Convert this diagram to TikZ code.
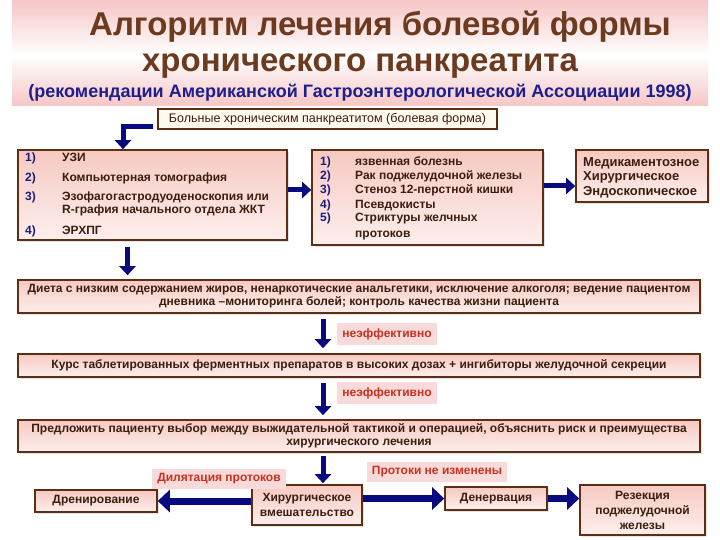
\documentclass[tikz,border=0pt]{standalone}
\usepackage{fontspec}
\setmainfont{Liberation Sans}
\usetikzlibrary{arrows.meta,shadows,calc}
\definecolor{titlebrown}{HTML}{6B3A1F}
\definecolor{subnavy}{HTML}{1E1E8C}
\definecolor{pinkbg}{HTML}{F6C6C6}
\definecolor{boxpink}{HTML}{F7C9C2}
\definecolor{boxborder}{HTML}{5C2E14}
\definecolor{boxtext}{HTML}{3C1E0F}
\definecolor{numnavy}{HTML}{1C1C7A}
\definecolor{arrowblue}{HTML}{0A0A80}
\definecolor{labelred}{HTML}{C8321E}
\definecolor{labelpink}{HTML}{F9DADA}
\definecolor{cream}{HTML}{FFF9EE}
\begin{document}
\begin{tikzpicture}[x=1pt,y=-1pt,
  box/.style={draw=boxborder, line width=1.6pt, top color=boxpink, bottom color=boxpink!30!white,
    drop shadow={shadow xshift=2pt, shadow yshift=-2pt, fill=gray!35, opacity=0.6},
    inner sep=0pt, text=boxtext, font=\bfseries\fontsize{12}{13}\selectfont, align=center},
  tall/.style={font=\bfseries\fontsize{12}{15}\selectfont},
  txt/.style={anchor=base west, inner sep=0pt, text=boxtext, font=\bfseries\fontsize{12}{13}\selectfont},
  num/.style={anchor=base west, inner sep=0pt, text=numnavy, font=\bfseries\fontsize{12}{13}\selectfont},
  lab/.style={fill=labelpink, text=labelred, inner xsep=5pt, inner ysep=5pt, font=\bfseries\fontsize{12}{13}\selectfont},
  arr/.style={draw=arrowblue, line width=5pt, -{Triangle[length=9pt,width=16pt]}},
  barr/.style={draw=arrowblue, line width=7pt, -{Triangle[length=12pt,width=22pt]}}
]
\useasboundingbox (0,0) rectangle (720,540);
\fill[white] (0,0) rectangle (720,540);
% title background
\shade[top color=pinkbg, bottom color=white] (12,0) rectangle (708,55);
\shade[top color=white, bottom color=pinkbg] (12,55) rectangle (708,106);
\node[text=titlebrown, font=\bfseries\fontsize{33}{36}\selectfont] (t1) at (380,27) {Алгоритм лечения болевой формы};
\node[text=titlebrown, font=\bfseries\fontsize{33}{36}\selectfont] (t2) at (360,66) {хронического панкреатита};
\node[text=subnavy, font=\bfseries\fontsize{18}{20}\selectfont] (t3) at (360,93) {(рекомендации Американской Гастроэнтерологической Ассоциации 1998)};

% patients box
\node[draw=boxborder, line width=1.4pt, fill=cream, minimum width=339pt, minimum height=20pt, inner sep=0pt,
  text=boxtext, font=\fontsize{12.5}{14}\selectfont] (b0) at (327.5,119) {Больные хроническим панкреатитом (болевая форма)};

% box 1
\node[box, minimum width=269pt, minimum height=90pt] (b1) at (152.5,195) {};
\node[num] (n11) at (25,162) {1)};  \node[txt] (x11) at (62,162) {УЗИ};
\node[num] (n12) at (25,182) {2)};  \node[txt] (x12) at (62,182) {Компьютерная томография};
\node[num] (n13) at (25,201) {3)};  \node[txt] (x13) at (62,201) {Эзофагогастродуоденоскопия или};
\node[txt] (x13b) at (62,214) {R-графия начального отдела ЖКТ};
\node[num] (n14) at (25,234) {4)};  \node[txt] (x14) at (62,234) {ЭРХПГ};

% box 2
\node[box, minimum width=231pt, minimum height=95pt] (b2) at (427.5,197.5) {};
\node[num] (n21) at (320,166) {1)}; \node[txt] (x21) at (355,166) {язвенная болезнь};
\node[num] (n22) at (320,180) {2)}; \node[txt] (x22) at (355,180) {Рак поджелудочной железы};
\node[num] (n23) at (320,194) {3)}; \node[txt] (x23) at (355,194) {Стеноз 12-перстной кишки};
\node[num] (n24) at (320,208) {4)}; \node[txt] (x24) at (355,208) {Псевдокисты};
\node[num] (n25) at (320,222) {5)}; \node[txt] (x25) at (355,222) {Стриктуры желчных};
\node[txt] (x25b) at (355,237) {протоков};

% box 3
\node[box, minimum width=132pt, minimum height=52pt] (b3) at (642,176) {};
\node[txt, font=\bfseries\fontsize{13}{14}\selectfont] (x31) at (583,167) {Медикаментозное};
\node[txt, font=\bfseries\fontsize{13}{14}\selectfont] (x32) at (583,181) {Хирургическое};
\node[txt, font=\bfseries\fontsize{13}{14}\selectfont] (x33) at (583,196) {Эндоскопическое};

% wide boxes
\node[box, minimum width=682pt, minimum height=33pt] (b4) at (359,296.5) {Диета с низким содержанием жиров, ненаркотические анальгетики, исключение алкоголя; ведение пациентом\\дневника –мониторинга болей; контроль качества жизни пациента};
\node[box, minimum width=682pt, minimum height=23pt] (b5) at (359,365.5) {Курс таблетированных ферментных препаратов в высоких дозах + ингибиторы желудочной секреции};
\node[box, minimum width=682pt, minimum height=32pt] (b6) at (359,436) {Предложить пациенту выбор между выжидательной тактикой и операцией, объяснить риск и преимущества\\хирургического лечения};

% bottom row
\node[box, minimum width=122pt, minimum height=22pt] (dren) at (96,501) {Дренирование};
\node[box, tall, minimum width=110pt, minimum height=40pt] (hir) at (307,505) {Хирургическое\\вмешательство};
\node[box, minimum width=102pt, minimum height=23pt] (den) at (496,498.5) {Денервация};
\node[box, tall, minimum width=125pt, minimum height=50pt] (rez) at (642.5,510) {Резекция\\поджелудочной\\железы};

% labels
\node[lab] (l1) at (387,334) {неэффективно};
\node[lab] (l2) at (387,393) {неэффективно};
\node[lab] (l3) at (219,479) {Дилятация протоков};
\node[lab] (l4) at (437,472) {Протоки не изменены};

% connectors
\draw[arr] ([xshift=-4pt,yshift=3pt]b0.south west) -| ([xshift=-29.5pt]b1.north);
\draw[arr] ([yshift=5pt]b1.east) -- ([yshift=5pt]b1.east -| b2.west);
\draw[arr] ([yshift=11.5pt]b2.east) -- ([yshift=11.5pt]b2.east -| b3.west);
\draw[arr, shorten <=6pt, shorten >=4pt] ($(b1.south)+(-25,0)$) -- ($(b4.north)+(-231.5,0)$);
\draw[arr, shorten <=5pt, shorten >=5pt] ($(b4.south)+(-36,0)$) -- ($(b5.north)+(-36,0)$);
\draw[arr, shorten <=5pt, shorten >=4pt] ($(b5.south)+(-36,0)$) -- ($(b6.north)+(-36,0)$);
\draw[arr, shorten <=3pt, shorten >=1pt] ($(b6.south)+(-36,0)$) -- ($(hir.north)+(16,0)$);
\draw[barr] (hir.west |- dren.east) -- (dren.east);
\draw[barr] (hir.east |- den.west) -- (den.west);
\draw[barr] (den.east) -- (den.east -| rez.west);
\end{tikzpicture}
\end{document}
